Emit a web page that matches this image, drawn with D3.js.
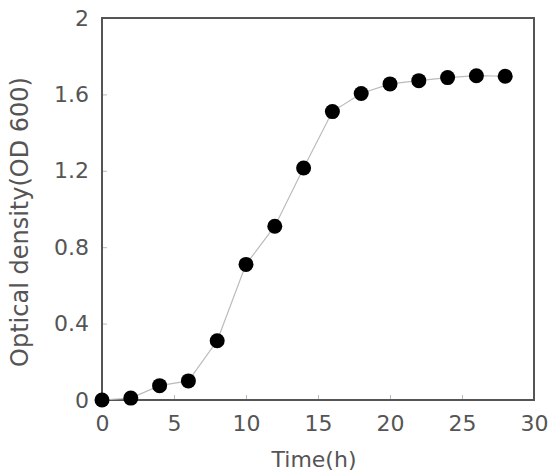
<!DOCTYPE html>
<html>
<head>
<meta charset="utf-8">
<script src="https://cdn.jsdelivr.net/npm/d3@7"></script>
<style>
  body { margin: 0; background: #fff; }
  text { font-family: "DejaVu Sans", "Liberation Sans", sans-serif; }
</style>
</head>
<body>
<div id="chart"></div>
<script>
// data
const timeH = [0, 2, 4, 6, 8, 10, 12, 14, 16, 18, 20, 22, 24, 26, 28];
const od600 = [0, 0.01, 0.075, 0.1, 0.31, 0.71, 0.91, 1.215, 1.51, 1.605, 1.655, 1.672, 1.688, 1.698, 1.695];
const xTicks = [0, 5, 10, 15, 20, 25, 30];
const yTicks = [0, 0.4, 0.8, 1.2, 1.6, 2];

const w = 548, h = 472;
const margin = { left: 102, right: 14, top: 18, bottom: 72 };
const gw = w - margin.left - margin.right;
const gh = h - margin.top - margin.bottom;

const svg = d3.select("#chart").append("svg")
    .attr("width", w)
    .attr("height", h);

const graph = svg.append("g")
    .attr("transform", `translate(${margin.left},${margin.top})`);

//scales
const xScale = d3.scaleLinear().domain([0, 30]).range([0, gw]);
const yScale = d3.scaleLinear().domain([0, 2]).range([gh, 0]);

//axes, ticks pointing inward
const xaxis = d3.axisBottom(xScale).tickValues(xTicks).tickSize(-5).tickPadding(15).tickFormat(d => d);
const yaxis = d3.axisLeft(yScale).tickValues(yTicks).tickSize(-5).tickPadding(13).tickFormat(d => d);

const xgrp = graph.append("g").attr("transform", `translate(0,${gh})`).call(xaxis);
const ygrp = graph.append("g").call(yaxis);

[xgrp, ygrp].forEach(g => {
    g.select(".domain").remove();
    g.selectAll(".tick line").attr("stroke", "#bbb").attr("stroke-width", 1);
    g.selectAll(".tick text")
        .attr("font-size", "22px")
        .attr("fill", "#555");
});
xgrp.selectAll(".tick text").attr("dy", "0.71em");

//frame
graph.append("rect")
    .attr("x", 0).attr("y", 0)
    .attr("width", gw).attr("height", gh)
    .attr("fill", "none")
    .attr("stroke", "#555")
    .attr("stroke-width", 2);

//line
const line = d3.line()
    .x((d, i) => xScale(timeH[i]))
    .y(d => yScale(d));

graph.append("path")
    .datum(od600)
    .attr("d", line)
    .attr("fill", "none")
    .attr("stroke", "#bbb")
    .attr("stroke-width", 1.2);

//points
graph.selectAll("circle")
    .data(od600)
    .enter()
    .append("circle")
    .attr("cx", (d, i) => xScale(timeH[i]))
    .attr("cy", d => yScale(d))
    .attr("r", 7.5)
    .attr("fill", "#000");

//axis labels
svg.append("text")
    .text("Time(h)")
    .attr("x", 314)
    .attr("y", 467)
    .attr("text-anchor", "middle")
    .attr("font-size", "22px")
    .attr("fill", "#555");

svg.append("text")
    .text("Optical density(OD 600)")
    .attr("transform", `translate(28,222) rotate(-90)`)
    .attr("text-anchor", "middle")
    .attr("font-size", "24px")
    .attr("fill", "#555");
</script>
</body>
</html>
